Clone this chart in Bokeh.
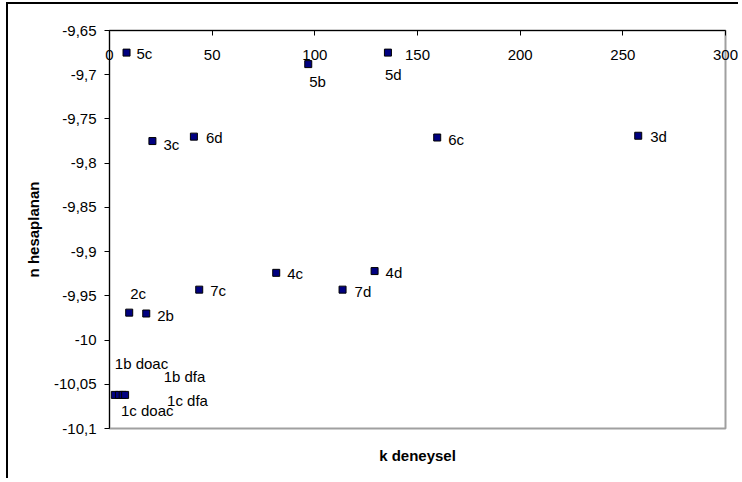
from bokeh.plotting import figure
from bokeh.models import (ColumnDataSource, LabelSet, LinearAxis, FixedTicker,
                          Range1d)
from bokeh.core.properties import value
from bokeh.embed import file_html
from bokeh.resources import INLINE

# ---- data ----
names = ["5c", "5b", "5d", "3c", "6d", "6c", "3d", "4c", "4d", "7d", "7c",
         "2c", "2b", "1b doac", "1c doac", "1b dfa", "1c dfa"]
k_deneysel = [8.3, 96.8, 135.6, 20.9, 41.1, 159.6, 257.5, 81.2, 129.1, 113.5,
              43.7, 9.6, 17.9, 2.6, 4.6, 6.4, 7.6]
n_hesaplanan = [-9.675, -9.688, -9.675, -9.775, -9.770, -9.771, -9.769,
                -9.924, -9.922, -9.943, -9.943, -9.969, -9.970,
                -10.062, -10.062, -10.062, -10.062]
x_ticks = [0, 50, 100, 150, 200, 250, 300]
y_ticks = [-10.1, -10.05, -10.0, -9.95, -9.9, -9.85, -9.8, -9.75, -9.7, -9.65]
y_tick_labels = ["-10,1", "-10,05", "-10", "-9,95", "-9,9", "-9,85", "-9,8",
                 "-9,75", "-9,7", "-9,65"]

# label offsets in screen pixels (right, up)
lab_dx = [10, 1, -3, 11, 12, 11, 12, 11, 11, 12, 11, 1, 11, 0, 2, 41, 42]
lab_dy = [-1, -17, -22, -3, -1, -2, -1, -1, -1, -2, -1, 19, -2, 31, -16, 18, -6]

FONT = "Liberation Sans"

p = figure(width=732, height=476, output_backend="svg", toolbar_location=None,
           x_range=Range1d(0, 300), y_range=Range1d(-10.1, -9.65),
           x_axis_location=None, y_axis_location=None,
           min_border_left=101, min_border_top=26, min_border_right=15,
           min_border_bottom=52)
p.styles = {"border-left": "2px solid black", "border-top": "2px solid black",
            "margin-left": "6px", "margin-top": "2px"}
p.grid.visible = False
p.outline_line_color = "#a0a0a0"
p.outline_line_width = 2
p.background_fill_color = "white"
p.border_fill_color = "white"

# left (y) axis
yax = LinearAxis(ticker=FixedTicker(ticks=y_ticks),
                 major_label_overrides={t: l for t, l in zip(y_ticks, y_tick_labels)},
                 axis_label="n hesaplanan")
yax.axis_line_color = "black"
yax.major_tick_line_color = "black"
yax.major_tick_out = 5
yax.major_tick_in = 0
yax.minor_tick_out = 0
yax.minor_tick_in = 0
yax.major_label_standoff = 8
yax.major_label_text_font = FONT
yax.major_label_text_font_size = "15px"
yax.major_label_text_color = "black"
yax.axis_label_text_font = FONT
yax.axis_label_text_font_size = "15px"
yax.axis_label_text_font_style = "bold"
yax.axis_label_text_color = "black"
yax.axis_label_standoff = 9
p.add_layout(yax, "left")

# top (x) axis: ticks point down, labels sit under the axis line
xax = LinearAxis(ticker=FixedTicker(ticks=x_ticks))
xax.axis_line_color = "black"
xax.major_tick_line_color = "black"
xax.major_tick_out = 0
xax.major_tick_in = 5
xax.minor_tick_out = 0
xax.minor_tick_in = 0
xax.major_label_text_font = FONT
xax.major_label_text_font_size = "15px"
xax.major_label_text_color = "black"
xax.major_label_standoff = -29
p.add_layout(xax, "above")

# bottom axis: title only
bax = LinearAxis(ticker=FixedTicker(ticks=[]), axis_label="k deneysel")
bax.axis_line_color = None
bax.major_tick_out = 0
bax.major_tick_in = 0
bax.minor_tick_out = 0
bax.axis_label_text_font = FONT
bax.axis_label_text_font_size = "15px"
bax.axis_label_text_font_style = "bold"
bax.axis_label_text_color = "black"
bax.axis_label_standoff = 18
p.add_layout(bax, "below")

src = ColumnDataSource(dict(x=k_deneysel, y=n_hesaplanan, name=names,
                            dx=lab_dx, dy=lab_dy))
p.scatter("x", "y", source=src, marker="square", size=7,
          fill_color="#000080", line_color="black", line_width=1)
p.add_layout(LabelSet(x="x", y="y", text="name", source=src,
                      x_offset="dx", y_offset="dy",
                      text_align="left", text_baseline="middle",
                      text_font=value(FONT), text_font_size="15px",
                      text_color="black"))

open("out.html", "w").write(file_html(p, INLINE))
